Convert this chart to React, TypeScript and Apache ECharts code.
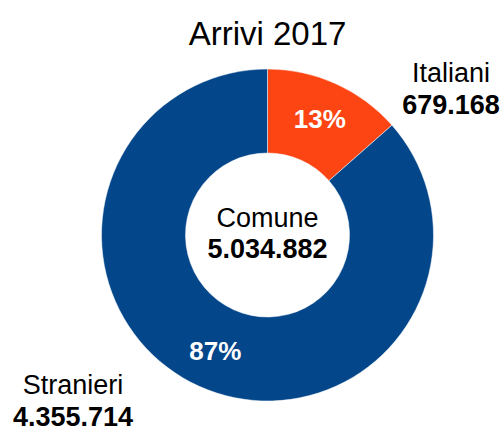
import React, { useEffect, useRef } from "react";
import * as echarts from "echarts";

const TITLE = "Arrivi 2017";
const CENTER_LABEL = "Comune";
const categories = ["Italiani", "Stranieri"];
const values = [679168, 4355714];
const colors = ["#FC4513", "#03468A"];

const FONT = "'Liberation Sans', Arial, sans-serif";

function fmt(v: number): string {
  return String(v).replace(/\B(?=(\d{3})+(?!\d))/g, ".");
}

export default function App() {
  const ref = useRef<HTMLDivElement>(null);
  useEffect(() => {
    document.body.style.margin = "0";
    if (!ref.current) return;
    const chart = echarts.init(ref.current, null, { renderer: "svg" });
    const data = categories.map((c, i) => ({ name: c, value: values[i] }));
    const total = values.reduce((a, b) => a + b, 0);
    const labelPos = [
      { x: 451, y: 89 },
      { x: 73, y: 401 },
    ];
    chart.setOption({
      animation: false,
      backgroundColor: "#ffffff",
      color: colors,
      graphic: [
        {
          type: "text",
          x: 267.5,
          y: 33,
          style: {
            text: TITLE,
            fontFamily: FONT,
            fontSize: 33,
            fill: "#000",
            align: "center",
            verticalAlign: "middle",
          },
        },
        {
          type: "text",
          x: 267.5,
          y: 233,
          style: {
            text: `{a|${CENTER_LABEL}}\n{b|${fmt(total)}}`,
            align: "center",
            verticalAlign: "middle",
            rich: {
              a: { fontFamily: FONT, fontSize: 27, fill: "#000", lineHeight: 31, align: "center" },
              b: { fontFamily: FONT, fontSize: 27, fontWeight: "bold", fill: "#000", lineHeight: 31, align: "center" },
            },
          },
        },
      ],
      series: [
        {
          type: "pie",
          center: [267.5, 235],
          radius: [82, 166],
          startAngle: 90,
          clockwise: true,
          data,
          itemStyle: { borderColor: "#ffffff", borderWidth: 0.5 },
          label: {
            show: true,
            position: "inside",
            formatter: (p: any) => Math.round(p.percent) + "%",
            color: "#ffffff",
            fontFamily: FONT,
            fontSize: 26,
            fontWeight: "bold",
          },
          labelLine: { show: false },
          emphasis: { disabled: true },
        },
        {
          type: "pie",
          center: [267.5, 235],
          radius: [82, 166],
          startAngle: 90,
          clockwise: true,
          silent: true,
          data,
          itemStyle: { color: "transparent" },
          label: {
            show: true,
            position: "outside",
            formatter: (p: any) => `{a|${p.name}}\n{b|${fmt(p.value)}}`,
            rich: {
              a: { fontFamily: FONT, fontSize: 27, color: "#000", lineHeight: 32, align: "center" },
              b: { fontFamily: FONT, fontSize: 27, fontWeight: "bold", color: "#000", lineHeight: 32, align: "center" },
            },
          },
          labelLine: { show: false },
          labelLayout: (params: any) => ({
            x: labelPos[params.dataIndex].x,
            y: labelPos[params.dataIndex].y,
            align: "center",
            verticalAlign: "middle",
          }),
          emphasis: { disabled: true },
        },
      ],
    });
    return () => chart.dispose();
  }, []);
  return <div ref={ref} style={{ width: 503, height: 428 }} />;
}
